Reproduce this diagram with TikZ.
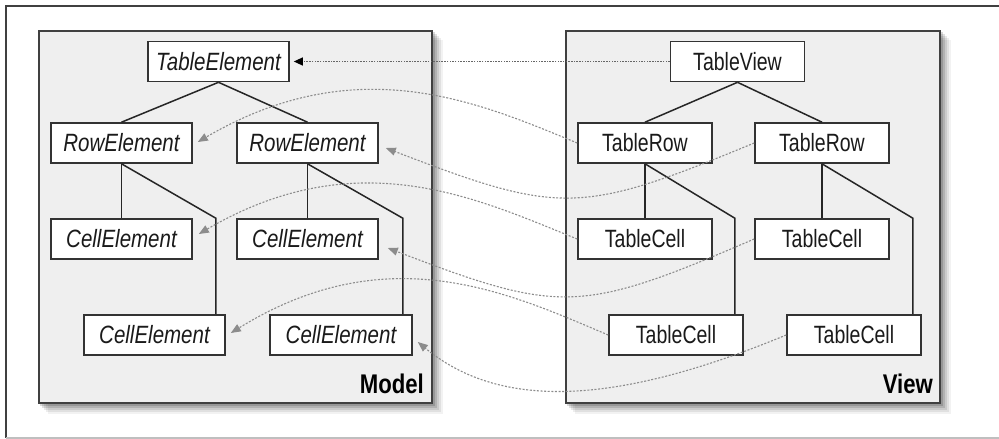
\documentclass[tikz,border=0pt]{standalone}
\usepackage{fontspec}
\newfontfamily\narrow[FakeStretch=0.78]{Liberation Sans}
\newfontfamily\narrowit[FakeStretch=0.82]{Liberation Sans}
\newfontfamily\narrowbf[FakeStretch=0.82]{Liberation Sans}
\usetikzlibrary{arrows.meta,calc}
\definecolor{panelfill}{HTML}{EFEFEF}
\definecolor{linkgray}{HTML}{8C8C8C}
\definecolor{darklink}{HTML}{666666}
\definecolor{inkgray}{HTML}{1A1A1A}
\pgfdeclarelayer{bg}
\pgfsetlayers{bg,main}
\begin{document}
\begin{tikzpicture}[x=1pt,y=-1pt,
  elem/.style={draw=black!80,line width=1.6pt,fill=white,minimum width=141pt,
    minimum height=40pt,inner sep=0pt,text=inkgray,
    font=\narrowit\itshape\fontsize{25}{28}\selectfont},
  viewbox/.style={elem,minimum width=134pt,font=\narrow\fontsize{25}{28}\selectfont},
  panel/.style={draw=black!75,line width=2pt,fill=panelfill,inner sep=0pt},
  paneltitle/.style={anchor=base east,inner sep=0pt,text=black,
    font=\narrowbf\bfseries\fontsize{27}{30}\selectfont},
  tree/.style={line width=1.5pt,draw=black!85},
  link/.style={draw=linkgray,line width=1.1pt,dash pattern=on 2pt off 1.6pt,
    -{Triangle[length=10pt,width=8pt]}},
  mainlink/.style={draw=darklink,line width=1.1pt,dash pattern=on 1.5pt off 1.2pt,
    -{Triangle[length=9pt,width=8pt,color=black]}},
  shadowbox/.style={fill=black,opacity=#1}
]
\useasboundingbox (0,0) rectangle (999,439);
% outer frame
\draw[black!75,line width=2pt] (999,6) -- (6,6) -- (6,438);
\draw[black!25,line width=1.2pt] (6,438) -- (999,438);

% panels
\node[panel,minimum width=393pt,minimum height=372pt] (model) at (235.5,217) {};
\node[panel,minimum width=374pt,minimum height=372pt] (view) at (753,217) {};
\begin{pgfonlayer}{bg}
  \fill[white] (0,0) rectangle (999,439);
  \foreach \p in {model,view}{
    \foreach \d/\o in {10/0.05,8/0.07,6/0.09,4/0.12,2/0.15}{
      \fill[shadowbox=\o] ([shift={(\d,\d)}]\p.north west) rectangle ([shift={(\d,\d)}]\p.south east);
    }
  }
\end{pgfonlayer}
\node[paneltitle] (modeltitle) at (424,393) {Model};
\node[paneltitle] (viewtitle) at (933,393) {View};

% model tree
\node[elem] (te) at (218.5,61.5) {TableElement};
\node[elem] (reL) at (121.5,143) {RowElement};
\node[elem] (reR) at (307.5,143) {RowElement};
\node[elem] (ceL1) at (121.5,239) {CellElement};
\node[elem] (ceR1) at (307.5,239) {CellElement};
\node[elem] (ceL2) at (154.5,335) {CellElement};
\node[elem,minimum width=142pt] (ceR2) at (341,335) {CellElement};

% view tree
\node[viewbox] (tv) at (737.5,61.5) {TableView};
\node[viewbox] (trL) at (645,143) {TableRow};
\node[viewbox] (trR) at (822,143) {TableRow};
\node[viewbox] (tcL1) at (645,239) {TableCell};
\node[viewbox] (tcR1) at (822,239) {TableCell};
\node[viewbox] (tcL2) at (676,335) {TableCell};
\node[viewbox] (tcR2) at (854,335) {TableCell};

% tree connectors
\coordinate (jL) at ([xshift=-10pt]ceL2.north east);
\coordinate (jR) at ([xshift=-10pt]ceR2.north east);
\coordinate (kL) at ([xshift=-9pt]tcL2.north east);
\coordinate (kR) at ([xshift=-9pt]tcR2.north east);
\draw[tree] (te.south) -- (reL.north);
\draw[tree] (te.south) -- (reR.north);
\draw[tree] (reL.south) -- (ceL1.north);
\draw[tree] (reL.south) -- (jL |- ceL1.north) -- (jL);
\draw[tree] (reR.south) -- (ceR1.north);
\draw[tree] (reR.south) -- (jR |- ceR1.north) -- (jR);
\draw[tree] (tv.south) -- (trL.north);
\draw[tree] (tv.south) -- (trR.north);
\draw[tree] (trL.south) -- (tcL1.north);
\draw[tree] (trL.south) -- (kL |- tcL1.north) -- (kL);
\draw[tree] (trR.south) -- (tcR1.north);
\draw[tree] (trR.south) -- (kR |- tcR1.north) -- (kR);

% view -> model links
\draw[mainlink] (tv.west) -- ([xshift=4pt]te.east);
\draw[link] (trL.west) .. controls (478,102) and (357,49) .. ([shift={(5,-1)}]reL.east);
\draw[link] (trR.west) .. controls (580,215) and (560,215) .. ([shift={(7,5)}]reR.east);
\draw[link] (tcL1.west) .. controls (478,199) and (358,141) .. ([shift={(6,-5)}]ceL1.east);
\draw[link] (tcR1.west) .. controls (580,314) and (560,314) .. ([shift={(9,9)}]ceR1.east);
\draw[link] (tcL2.west) .. controls (509,293) and (388,236) .. ([shift={(5,-2)}]ceL2.east);
\draw[link] (tcR2.west) .. controls (610,408) and (498,408) .. ([shift={(5,7)}]ceR2.east);
\end{tikzpicture}
\end{document}
